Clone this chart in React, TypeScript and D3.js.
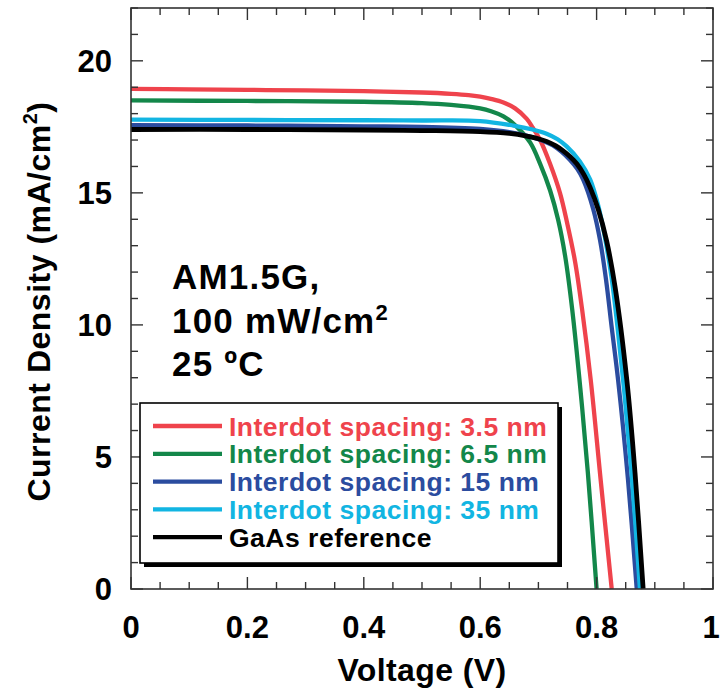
import React from "react";
import * as d3 from "d3";

// J–V curves under illumination: voltage (V) vs current density (mA/cm²)
const voltage35 = [0, 0.1, 0.2, 0.3, 0.4, 0.5, 0.55, 0.58, 0.6, 0.62, 0.64, 0.66, 0.68, 0.69, 0.703, 0.72, 0.737, 0.749, 0.763, 0.775, 0.79, 0.807, 0.826];
const current35 = [18.94, 18.92, 18.9, 18.88, 18.85, 18.8, 18.75, 18.7, 18.64, 18.55, 18.42, 18.2, 17.8, 17.48, 17.0, 16.1, 15.0, 13.9, 12.4, 10.6, 7.9, 4.13, 0];

const voltage65 = [0, 0.2, 0.4, 0.5, 0.55, 0.6, 0.62, 0.64, 0.663, 0.686, 0.703, 0.72, 0.734, 0.746, 0.758, 0.772, 0.785, 0.8];
const current65 = [18.5, 18.48, 18.45, 18.4, 18.33, 18.2, 18.08, 17.9, 17.5, 16.9, 16.1, 15.1, 13.97, 12.6, 10.6, 7.6, 4.4, 0];

const voltage15 = [0, 0.2, 0.4, 0.5, 0.6, 0.65, 0.686, 0.71, 0.725, 0.74, 0.754, 0.767, 0.777, 0.794, 0.806, 0.816, 0.826, 0.837, 0.854, 0.869];
const current15 = [17.56, 17.55, 17.52, 17.5, 17.42, 17.3, 17.13, 16.95, 16.8, 16.55, 16.25, 15.9, 15.5, 14.4, 13.2, 11.75, 9.9, 7.9, 4.13, 0];

const voltage350 = [0, 0.2, 0.4, 0.5, 0.6, 0.657, 0.69, 0.714, 0.733, 0.749, 0.771, 0.789, 0.803, 0.814, 0.826, 0.836, 0.847, 0.86, 0.8745];
const current350 = [17.77, 17.76, 17.75, 17.74, 17.72, 17.55, 17.4, 17.24, 17.03, 16.75, 16.2, 15.5, 14.5, 13.35, 11.75, 9.9, 7.6, 4.4, 0];

const voltageRef = [0, 0.2, 0.4, 0.5, 0.6, 0.65, 0.68, 0.7, 0.714, 0.73, 0.742, 0.755, 0.766, 0.778, 0.789, 0.803, 0.817, 0.832, 0.852, 0.866, 0.88];
const currentRef = [17.4, 17.4, 17.38, 17.36, 17.32, 17.25, 17.15, 17.05, 16.95, 16.78, 16.6, 16.36, 16.1, 15.7, 15.2, 14.36, 13.2, 11.4, 7.9, 4.4, 0];

const seriesLabels = [
  "Interdot spacing: 3.5 nm",
  "Interdot spacing: 6.5 nm",
  "Interdot spacing: 15 nm",
  "Interdot spacing: 35 nm",
  "GaAs reference",
];
const seriesColors = ["#ef434c", "#13874a", "#2b4c9f", "#12b5e2", "#000000"];
const seriesX = [voltage35, voltage65, voltage15, voltage350, voltageRef];
const seriesY = [current35, current65, current15, current350, currentRef];

const xTicks = [0, 0.2, 0.4, 0.6, 0.8, 1];
const xTickLabels = ["0", "0.2", "0.4", "0.6", "0.8", "1"];
const yTicks = [0, 5, 10, 15, 20];
const yTickLabels = ["0", "5", "10", "15", "20"];

const W = 720;
const H = 691;
const left = 131;
const right = 713;
const top = 8;
const bottom = 589;

const FONT = "'Liberation Sans', Arial, Helvetica, sans-serif";

export default function App() {
  const x = d3.scaleLinear().domain([0, 1]).range([left, right]);
  const y = d3.scaleLinear().domain([0, 22]).range([bottom, top]);

  const line = d3
    .line<[number, number]>()
    .x((d) => x(d[0]))
    .y((d) => y(d[1]))
    .curve(d3.curveCatmullRom.alpha(0.5));

  const xMinor = d3.range(0, 21).map((k) => k * 0.05);
  const yMinor = d3.range(0, 23);

  const axisColor = "#333";

  return (
    <svg
      width={W}
      height={H}
      viewBox={`0 0 ${W} ${H}`}
      style={{ position: "absolute", left: 0, top: 0, background: "#fff" }}
    >
      <rect x={0} y={0} width={W} height={H} fill="#fff" />

      {/* curves */}
      <g fill="none" strokeLinejoin="round" strokeLinecap="butt">
        {seriesX.map((xs, i) => (
          <path
            key={i}
            d={line(xs.map((v, k) => [v, seriesY[i][k]] as [number, number])) || ""}
            stroke={seriesColors[i]}
            strokeWidth={i === 4 ? 4.8 : 4.3}
          />
        ))}
      </g>

      {/* ticks on all four sides, pointing inward */}
      <g stroke={axisColor} strokeWidth={1.4}>
        {xMinor.map((v, i) => {
          const len = i % 4 === 0 ? 12 : 7;
          return (
            <g key={"x" + i}>
              <line x1={x(v)} x2={x(v)} y1={bottom} y2={bottom - len} />
              <line x1={x(v)} x2={x(v)} y1={top} y2={top + len} />
            </g>
          );
        })}
        {yMinor.map((v, i) => {
          const len = v % 5 === 0 ? 12 : 7;
          return (
            <g key={"y" + i}>
              <line x1={left} x2={left + len} y1={y(v)} y2={y(v)} />
              <line x1={right} x2={right - len} y1={y(v)} y2={y(v)} />
            </g>
          );
        })}
      </g>

      {/* frame */}
      <rect
        x={left}
        y={top}
        width={right - left}
        height={bottom - top}
        fill="none"
        stroke={axisColor}
        strokeWidth={1.6}
      />

      {/* tick labels */}
      <g fontFamily={FONT} fontWeight="bold" fontSize={31} fill="#000">
        {xTicks.map((v, i) => (
          <text key={"xl" + i} x={Math.min(x(v), W - 9)} y={638} textAnchor="middle">
            {xTickLabels[i]}
          </text>
        ))}
        {yTicks.map((v, i) => (
          <text key={"yl" + i} x={112} y={y(v) + 11} textAnchor="end">
            {yTickLabels[i]}
          </text>
        ))}
      </g>

      {/* axis titles */}
      <text
        x={(left + right) / 2}
        y={681}
        textAnchor="middle"
        fontFamily={FONT}
        fontWeight="bold"
        fontSize={32}
        letterSpacing={0.4}
      >
        Voltage (V)
      </text>
      <text
        transform={`translate(50, ${(top + bottom) / 2 + 3}) rotate(-90)`}
        textAnchor="middle"
        fontFamily={FONT}
        fontWeight="bold"
        fontSize={32}
        letterSpacing={0.5}
      >
        Current Density (mA/cm
        <tspan fontSize={20} dy={-13}>2</tspan>
        <tspan dy={13}>)</tspan>
      </text>

      {/* illumination conditions */}
      <g fontFamily={FONT} fontWeight="bold" fontSize={35} fill="#000" letterSpacing={1.2}>
        <text x={172} y={289}>AM1.5G,</text>
        <text x={172} y={333}>
          100 mW/cm<tspan fontSize={22} dy={-13}>2</tspan>
        </text>
        <text x={172} y={376}>25 ºC</text>
      </g>

      {/* legend */}
      <g>
        <rect x={144} y={407} width={418} height={160} fill="#000" />
        <rect x={140} y={403} width={418} height={160} fill="#fff" stroke="#000" strokeWidth={1.6} />
        {seriesLabels.map((label, i) => {
          const ly = 426 + i * 27.8;
          return (
            <g key={"lg" + i}>
              <line x1={153} x2={222} y1={ly} y2={ly} stroke={seriesColors[i]} strokeWidth={4.3} />
              <text
                x={229}
                y={ly + 9.5}
                fontFamily={FONT}
                fontWeight="bold"
                fontSize={26.5}
                letterSpacing={0.5}
                fill={seriesColors[i]}
              >
                {label}
              </text>
            </g>
          );
        })}
      </g>
    </svg>
  );
}
